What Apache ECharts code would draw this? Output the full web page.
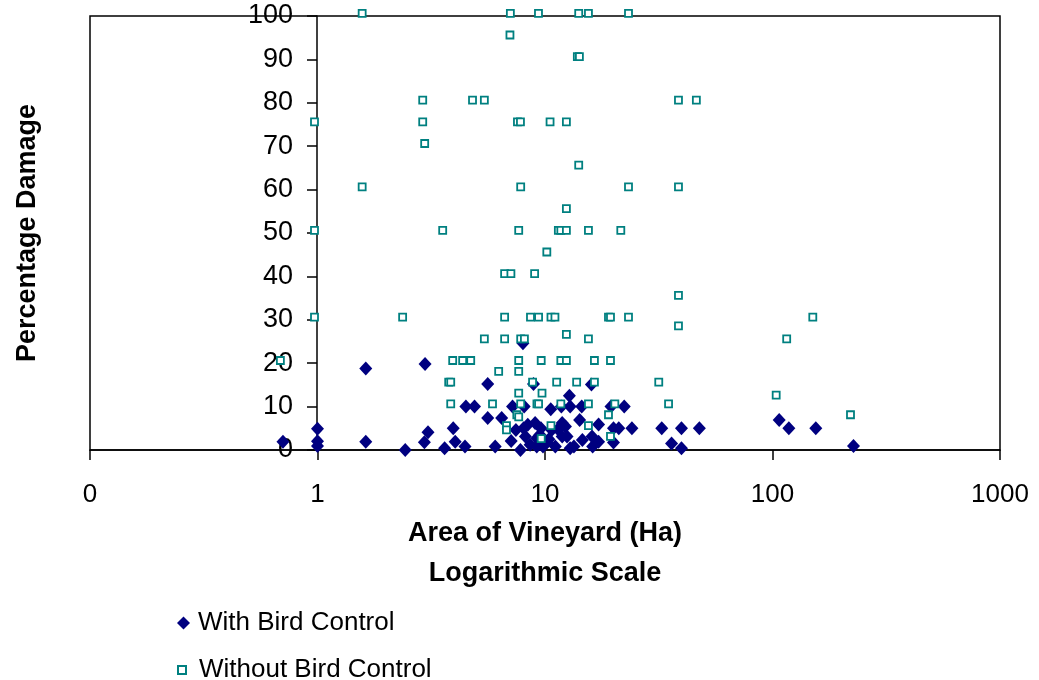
<!DOCTYPE html>
<html>
<head>
<meta charset="utf-8">
<script src="https://cdn.jsdelivr.net/npm/echarts@6/dist/echarts.min.js"></script>
<style>
  html, body { margin: 0; padding: 0; background: #fff; }
  #chart { width: 1039px; height: 680px; }
</style>
</head>
<body>
<div id="chart"></div>
<script>
// area of vineyard (ha), percentage damage
const withControl = [
  [0.705, 1.9], [1, 4.9], [1, 2], [1, 0.9], [1.63, 18.8], [1.63, 1.9], [2.43, 0],
  [2.97, 19.8], [3.06, 4.1], [2.95, 1.8], [3.62, 0.4], [3.95, 5], [4.03, 1.9],
  [4.45, 0.8], [4.49, 10], [4.9, 10], [5.6, 15.2], [5.6, 7.4], [6.04, 0.8],
  [6.45, 7.4], [7.2, 10], [8.1, 10], [8.0, 24.6], [8.9, 15.2], [7.1, 2.1],
  [7.45, 4.6], [7.8, 0], [8.05, 5], [8.4, 5.8], [8.2, 3.1], [9.05, 6.2],
  [9.2, 2.7], [9.5, 3.5], [9.2, 0.8], [9.8, 0.8], [10.6, 9.4], [10.7, 4.6],
  [11.1, 0.8], [11.9, 6.2], [11.9, 3.1], [12.8, 12.5], [12.9, 10], [12.5, 3.1],
  [12.3, 5.4], [13.4, 0.8], [12.9, 0.4], [11.8, 10], [14.5, 10], [14.2, 6.9],
  [14.6, 2.3], [16, 15.1], [16.1, 3.1], [16.2, 0.8], [17.2, 5.9], [17.2, 1.9],
  [19.5, 10], [20, 5], [20, 1.7], [21.1, 5], [22.3, 10], [24.1, 5], [32.6, 5],
  [36, 1.5], [39.8, 5], [39.8, 0.4], [47.7, 5], [107, 6.9], [118, 5], [155, 5],
  [227, 0.9], [9.6, 5], [10.2, 1.8], [11.4, 4.8], [10.4, 2.5], [8.6, 1.2]
];

const withoutControl = [
  [1.62, 100], [7.26, 100], [9.65, 100], [14.5, 100], [16, 100], [24, 100],
  [7.23, 95], [14.3, 90], [14.6, 90],
  [2.99, 80], [4.95, 80], [5.58, 80], [39.8, 80], [47.7, 80],
  [1, 75], [2.99, 75], [7.8, 75], [8.04, 75], [10.85, 75], [12.8, 75],
  [3.05, 70], [14.5, 65],
  [1.62, 60], [8.06, 60], [24, 60], [39.8, 60], [12.8, 55],
  [1, 50], [3.66, 50], [7.9, 50], [11.8, 50], [12.1, 50], [12.8, 50], [16, 50], [22.2, 50],
  [10.5, 45], [6.85, 40], [7.3, 40], [9.28, 40], [39.8, 35],
  [1, 30], [2.44, 30], [6.85, 30], [8.9, 30], [9.66, 30], [10.95, 30], [11.4, 30],
  [19.6, 30], [20, 30], [24, 30], [155, 30],
  [39.8, 28], [12.8, 26],
  [5.58, 25], [6.85, 25], [8.06, 25], [8.37, 25], [16, 25], [119, 25],
  [0.708, 20], [4.05, 20], [4.48, 20], [4.86, 20], [7.9, 20], [9.92, 20], [12.1, 20],
  [12.8, 20], [17, 20], [20, 20],
  [6.45, 17.5], [7.9, 17.5],
  [3.89, 15], [3.97, 15], [9.09, 15], [11.6, 15], [14.2, 15], [17, 15], [32.6, 15],
  [7.9, 12.5], [10, 12.5], [107, 12],
  [3.97, 10], [6.06, 10], [8.06, 10], [9.5, 10], [9.66, 10], [12.1, 10], [16, 10],
  [20.9, 10], [36, 10],
  [7.75, 7.5], [19.6, 7.5], [227, 7.5], [7.9, 7],
  [6.98, 5], [10.95, 5], [16, 5], [6.98, 4], [9.92, 2], [20, 2.5]
];

const seriesNames = ['With Bird Control', 'Without Bird Control'];
const yTicks = [0, 10, 20, 30, 40, 50, 60, 70, 80, 90, 100];

const FONT = 'Liberation Sans, Arial, sans-serif';

const chart = echarts.init(document.getElementById('chart'));

// one legend per row so each marker can keep its own size
function legendRow(name, top, size, gap) {
  return {
    data: [name],
    left: 177,
    top: top,
    padding: 0,
    itemWidth: size,
    itemHeight: size,
    textStyle: { fontSize: 26, color: '#000', fontFamily: FONT, padding: [0, 0, 0, gap] },
  };
}

chart.setOption({
  animation: false,
  textStyle: { fontFamily: FONT, color: '#000' },
  grid: {
    left: 90,
    right: 39,
    top: 16,
    bottom: 230,
    show: true,
    borderColor: '#000',
    borderWidth: 1.5,
  },
  xAxis: {
    type: 'log',
    logBase: 10,
    min: 0.1,
    max: 1000,
    name: 'Area of Vineyard (Ha)\nLogarithmic Scale',
    nameLocation: 'middle',
    nameGap: 64,
    nameTextStyle: { fontSize: 27, fontWeight: 'bold', lineHeight: 40, color: '#000' },
    axisLine: { lineStyle: { color: '#000', width: 1.5 } },
    axisTick: { show: true, length: 10, lineStyle: { color: '#000', width: 1.5 } },
    splitLine: { show: false },
    minorTick: { show: false },
    axisLabel: {
      fontSize: 26,
      color: '#000',
      margin: 32,
      formatter: (v) => (v < 0.5 ? '0' : String(Math.round(v))),
    },
  },
  yAxis: {
    type: 'value',
    min: yTicks[0],
    max: yTicks[yTicks.length - 1],
    interval: 10,
    offset: -227,
    name: 'Percentage Damage',
    nameLocation: 'middle',
    nameRotate: 90,
    nameGap: 276,
    nameTextStyle: { fontSize: 27, fontWeight: 'bold', color: '#000' },
    axisLine: { show: true, lineStyle: { color: '#000', width: 1.5 } },
    axisTick: { show: true, length: 10, lineStyle: { color: '#000', width: 1.5 } },
    splitLine: { show: false },
    axisLabel: { fontSize: 27, color: '#000', margin: 24 },
  },
  legend: [
    legendRow(seriesNames[0], 610, 13, 3),
    legendRow(seriesNames[1], 657, 8, 8),
  ],
  series: [
    {
      name: seriesNames[1],
      type: 'scatter',
      data: withoutControl,
      symbol: 'rect',
      symbolSize: 7,
      symbolOffset: [-3, -2.7],
      itemStyle: { color: '#fff', borderColor: '#008080', borderWidth: 1.8, opacity: 1 },
      z: 3,
    },
    {
      name: seriesNames[0],
      type: 'scatter',
      data: withControl,
      symbol: 'diamond',
      symbolSize: [13, 14],
      itemStyle: { color: '#000080', opacity: 1 },
      z: 2,
    },
  ],
});
</script>
</body>
</html>
